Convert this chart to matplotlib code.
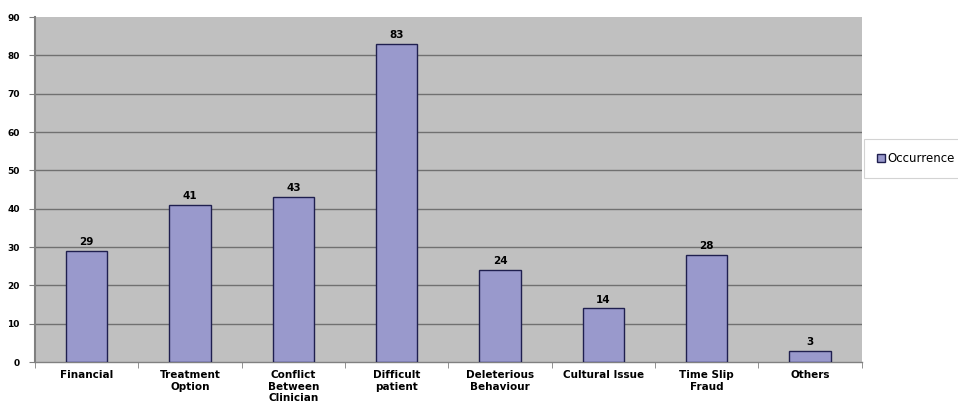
import matplotlib
matplotlib.use("Agg")
import matplotlib.pyplot as plt
import numpy as np

categories = ["Financial", "Treatment\nOption", "Conflict\nBetween\nClinician",
              "Difficult\npatient", "Deleterious\nBehaviour", "Cultural Issue",
              "Time Slip\nFraud", "Others"]
occurrence = [29, 41, 43, 83, 24, 14, 28, 3]

plt.rcParams['font.family'] = ['DejaVu Sans']

fig = plt.figure(figsize=(9.58, 4.05), dpi=100)
ax = fig.add_axes([0.0365, 0.106, 0.863, 0.852])

x = np.arange(len(categories))
bars = ax.bar(x, occurrence, width=0.4, color='#9999cc', edgecolor='#1f1f4f',
              linewidth=1.0, label='Occurrence', zorder=3)

for xi, v in zip(x, occurrence):
    ax.text(xi, v + 1.0, str(v), ha='center', va='bottom', fontsize=7.5,
            fontweight='bold', zorder=4)

ax.set_facecolor('#c0c0c0')
ax.set_xlim(-0.5, len(categories) - 0.5)
ax.set_ylim(0, 90)
ax.set_yticks(range(0, 91, 10))
# horizontal gridlines, none along the top edge
for yv in range(10, 90, 10):
    ax.axhline(yv, color='#707070', linewidth=1.0, zorder=1)

# Category labels centred under bars, tick marks on the slot boundaries
ax.set_xticks(x)
ax.set_xticklabels(categories, fontsize=7.5, fontweight='bold', linespacing=1.15)
ax.tick_params(axis='x', which='major', length=0, pad=6)
ax.set_xticks(np.arange(-0.5, len(categories)), minor=True)
ax.tick_params(axis='x', which='minor', length=4, color='#808080', direction='out')
ax.tick_params(axis='y', labelsize=6.5, length=4, color='#808080', pad=7)
for lab in ax.get_yticklabels():
    lab.set_fontweight('bold')

for side in ['top', 'right']:
    ax.spines[side].set_visible(False)
ax.spines['left'].set_color('#808080')
ax.spines['left'].set_linewidth(1.5)
ax.spines['bottom'].set_color('#808080')
ax.spines['bottom'].set_linewidth(1.0)

leg = fig.legend(handles=[bars], labels=['Occurrence'], loc='center left',
                 bbox_to_anchor=(0.902, 0.608), fontsize=8.5, frameon=True,
                 fancybox=False, handlelength=0.7, handleheight=0.7,
                 handletextpad=0.2, borderpad=1.1, borderaxespad=0)
leg.get_frame().set_edgecolor('#c8c8c8')
leg.get_frame().set_linewidth(0.8)

fig.savefig("out.png", dpi=100)
